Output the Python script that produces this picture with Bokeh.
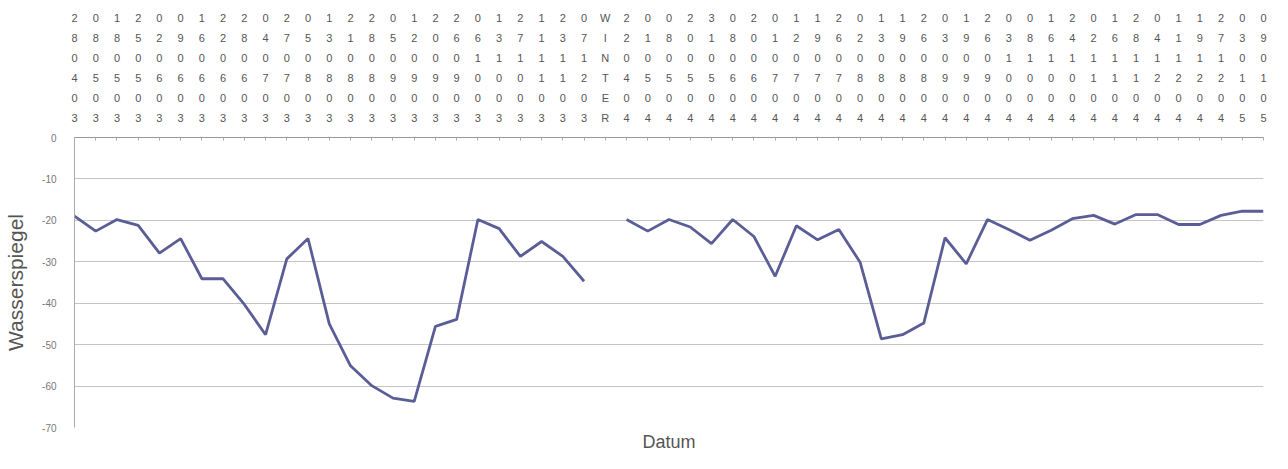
from bokeh.plotting import figure
from bokeh.models import Range1d, FixedTicker, Title, ColumnDataSource
from bokeh.embed import file_html
from bokeh.resources import INLINE

dates = ["280403", "080503", "180503", "250503", "020603", "090603", "160603",
         "220603", "280603", "040703", "270703", "050803", "130803", "210803",
         "280803", "050903", "120903", "200903", "260903", "061003", "131003",
         "271003", "111103", "231103", "071203", "WINTER", "220404", "010504",
         "080504", "200504", "310504", "080604", "200604", "010704", "120704",
         "190704", "260704", "020804", "130804", "190804", "260804", "030904",
         "190904", "260904", "031004", "081004", "161004", "241004", "021104",
         "161104", "281104", "041204", "111204", "191204", "271204", "030105",
         "090105"]

levels = [-19.0, -22.6, -19.8, -21.2, -27.9, -24.4, -34.1, -34.1, -40.3, -47.6,
          -29.3, -24.4, -45.0, -55.1, -59.9, -62.9, -63.7, -45.6, -43.9, -19.8,
          -22.0, -28.7, -25.1, -28.7, -34.7, float("nan"), -19.8, -22.6, -19.8,
          -21.6, -25.6, -19.8, -23.9, -33.5, -21.3, -24.7, -22.2, -30.1, -48.6,
          -47.6, -44.8, -24.2, -30.5, -19.8, -22.2, -24.8, -22.4, -19.6, -18.8,
          -20.9, -18.6, -18.6, -21.0, -21.0, -18.8, -17.8, -17.8]

y_ticks = [0, -10, -20, -30, -40, -50, -60, -70]

idx = list(range(len(dates)))
src = ColumnDataSource(data=dict(x=idx, y=levels))

p = figure(width=1272, height=453, output_backend="svg", toolbar_location=None,
           x_range=Range1d(0, len(dates) - 1), y_range=Range1d(-70, 0),
           x_axis_location="above",
           min_border_left=74, min_border_right=9, min_border_top=137,
           min_border_bottom=26)
p.outline_line_color = None
p.background_fill_color = "white"

p.line("x", "y", source=src, line_color="#5b5e96", line_width=2.8)

xa = p.xaxis[0]
xa.ticker = FixedTicker(ticks=idx)
xa.major_label_overrides = {i: "\n".join(d) for i, d in zip(idx, dates)}
xa.major_label_text_font = "Liberation Sans"
xa.major_label_text_font_size = "11px"
xa.major_label_text_color = "#555555"
xa.major_label_text_line_height = 1.66
xa.major_label_standoff = 14
xa.axis_line_color = "#999999"
xa.major_tick_line_color = "#aaaaaa"
xa.major_tick_in = 3
xa.major_tick_out = 0
xa.minor_tick_line_color = None

ya = p.yaxis[0]
ya.ticker = FixedTicker(ticks=y_ticks)
ya.major_label_overrides = {t: str(t) for t in y_ticks}
ya.major_label_text_font = "Liberation Sans"
ya.major_label_text_font_size = "10px"
ya.major_label_text_color = "#777777"
ya.major_label_standoff = 12
ya.axis_line_color = "#aaaaaa"
ya.major_tick_line_color = None
ya.minor_tick_line_color = None
ya.axis_label = "Wasserspiegel"
ya.axis_label_text_font = "Liberation Sans"
ya.axis_label_text_font_size = "21px"
ya.axis_label_text_font_style = "normal"
ya.axis_label_text_color = "#555555"
ya.axis_label_standoff = 12

p.xgrid.grid_line_color = None
p.ygrid.ticker = FixedTicker(ticks=y_ticks)
p.ygrid.grid_line_color = "#c4c4c4"
p.ygrid.grid_line_width = 1

p.add_layout(Title(text="Datum", align="center", text_font="Liberation Sans",
                   text_font_size="18px", text_font_style="normal",
                   text_color="#555555", standoff=4), "below")

open("out.html", "w").write(file_html(p, INLINE))
